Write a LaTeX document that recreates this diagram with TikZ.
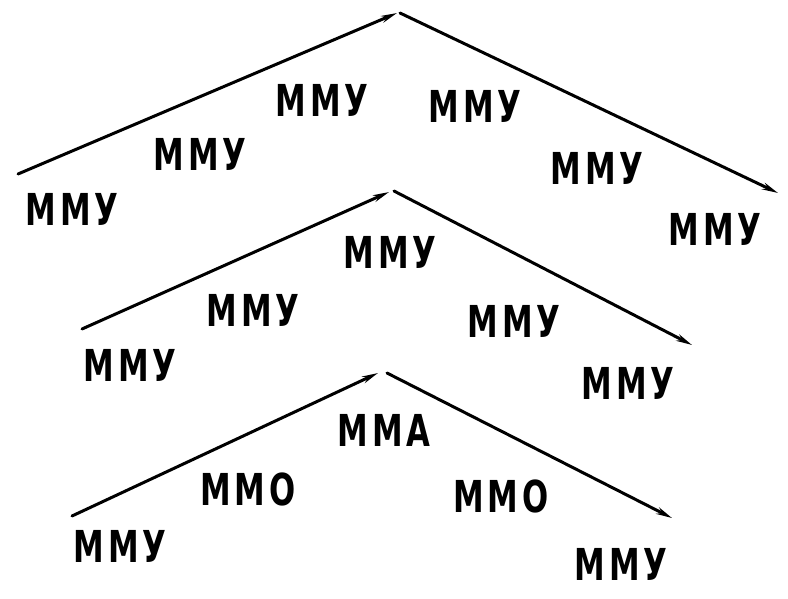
\documentclass[tikz,border=0pt]{standalone}
\usepackage{fontspec}
\newfontfamily\lblfont[FakeStretch=0.7, LetterSpace=8]{DejaVu Sans}
\usetikzlibrary{arrows.meta}

\begin{document}
\begin{tikzpicture}[x=1pt, y=-1pt,
    lbl/.style={anchor=base, inner sep=0pt, font={\lblfont\bfseries\fontsize{44}{44}\selectfont}},
    arr/.style={line width=3pt, line cap=round, -{Stealth[length=16pt, width=7pt]}}]
    \useasboundingbox (0,0) rectangle (788,598);
    % top chevron
    \coordinate (ts) at (18,174); \coordinate (ta) at (397,13); \coordinate (tb) at (400,13); \coordinate (te) at (778,193);
    \draw[arr] (ts) -- (ta); \draw[arr] (tb) -- (te);
    \node[lbl] (t1) at (72,225) {ММУ}; \node[lbl] (t2) at (200,170) {ММУ};
    \node[lbl] (t3) at (322,116) {ММУ}; \node[lbl] (t4) at (475,122) {ММУ};
    \node[lbl] (t5) at (597,184) {ММУ}; \node[lbl] (t6) at (715,245) {ММУ};
    % middle chevron
    \coordinate (ms) at (82,329); \coordinate (ma) at (389,192); \coordinate (mb) at (394,191); \coordinate (me) at (692,345);
    \draw[arr] (ms) -- (ma); \draw[arr] (mb) -- (me);
    \node[lbl] (m1) at (130,381) {ММУ}; \node[lbl] (m2) at (253,326) {ММУ};
    \node[lbl] (m3) at (390,268) {ММУ}; \node[lbl] (m4) at (514,337) {ММУ};
    \node[lbl] (m5) at (628,399) {ММУ};
    % bottom chevron
    \coordinate (bs) at (72,516); \coordinate (ba) at (378,373); \coordinate (bb) at (387,373); \coordinate (be) at (672,518);
    \draw[arr] (bs) -- (ba); \draw[arr] (bb) -- (be);
    \node[lbl] (b1) at (120,562) {ММУ}; \node[lbl] (b2) at (248,505) {ММО};
    \node[lbl] (b3) at (384,446) {ММА}; \node[lbl] (b4) at (501,512) {ММО};
    \node[lbl] (b5) at (621,580) {ММУ};
\end{tikzpicture}
\end{document}
